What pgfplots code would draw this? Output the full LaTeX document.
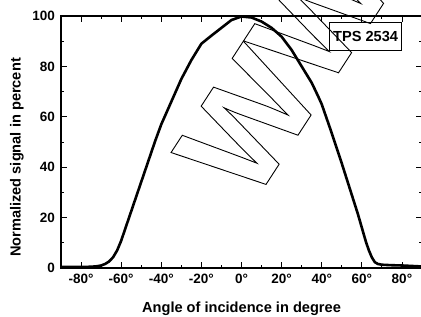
\documentclass[border=0pt]{standalone}
\usepackage{fontspec}
\setmainfont{Liberation Sans}
\usepackage{pgfplots}
\pgfplotsset{compat=1.18}
\begin{document}
\begin{tikzpicture}
\begin{axis}[
  scale only axis,
  width=361bp, height=252bp,
  at={(0,0)}, anchor=south west,
  xmin=-90, xmax=90, ymin=0, ymax=100,
  xtick={-80,-60,-40,-20,0,20,40,60,80},
  xticklabels={-80°,-60°,-40°,-20°,0°,20°,40°,60°,80°},
  ytick={0,20,40,60,80,100},
  minor x tick num=1, minor y tick num=1,
  tick align=inside,
  major tick length=6bp, minor tick length=3.5bp,
  axis line style={line width=1.2bp},
  every tick/.style={black, line width=0.9bp},
  /pgf/number format/assume math mode=true,
  tick label style={font=\fontsize{13.5bp}{16bp}\selectfont\bfseries},
  xticklabel style={anchor=center, inner sep=0pt, yshift=-11bp},
  yticklabel style={anchor=east, inner sep=0pt, xshift=-6bp},
  every axis x label/.style={at={(axis description cs:0.5,0)}, anchor=center, yshift=-41bp, font=\fontsize{14.6bp}{17bp}\selectfont\bfseries},
  every axis y label/.style={at={(axis description cs:-0.122,0.4385)}, rotate=90, anchor=center, font=\fontsize{14.6bp}{17bp}\selectfont\bfseries},
  xlabel={Angle of incidence in degree},
  ylabel={Normalized signal in percent},
  clip=false,
]
\addplot[black, line width=2.6bp, line join=round] coordinates {
(-90,0.4) (-80,0.4) (-75,0.5) (-72,0.7) (-70,1.0) (-68,1.6) (-66,2.6) (-64,4.3)
(-62,7.0) (-60,10.8) (-58,15.5) (-55,22.5) (-52,29.5) (-49,36.5) (-46,43.5)
(-43,50.5) (-40,57) (-35,66) (-30,75) (-25,82.5) (-20,89) (-15,92.2) (-10,95.3)
(-5,98.4) (0,99.8) (5,99.4) (10,97.8) (15,95.3) (20,91.8) (25,86.5) (30,80)
(35,73.5) (38,68.5) (40,65) (45,53.5) (50,41.5) (55,29) (58,21.5) (60,16)
(62,10.5) (63.5,7) (65,4.2) (66.5,2.3) (68,1.6) (70,1.3) (75,1.1) (80,1.0)
(85,0.8) (90,0.6)
};
\node[draw, line width=0.9bp, minimum width=72.4bp, minimum height=27.3bp, inner sep=0pt,
  font=\fontsize{14.6bp}{17bp}\selectfont\bfseries] at (axis cs:61.9,91.9) {TPS 2534};
\node[rotate=57, anchor=north west, inner sep=0pt,
  font=\fontsize{141bp}{150bp}\selectfont\bfseries] at (axis cs:-35.3,45.75)
  {\special{pdf:literal direct 1 Tr 0.9 w}WWW\special{pdf:literal direct 0 Tr}};
\end{axis}
\pgfresetboundingbox
\path[use as bounding box] (-61bp,-49bp) rectangle (360bp,268bp);
\end{tikzpicture}
\end{document}
